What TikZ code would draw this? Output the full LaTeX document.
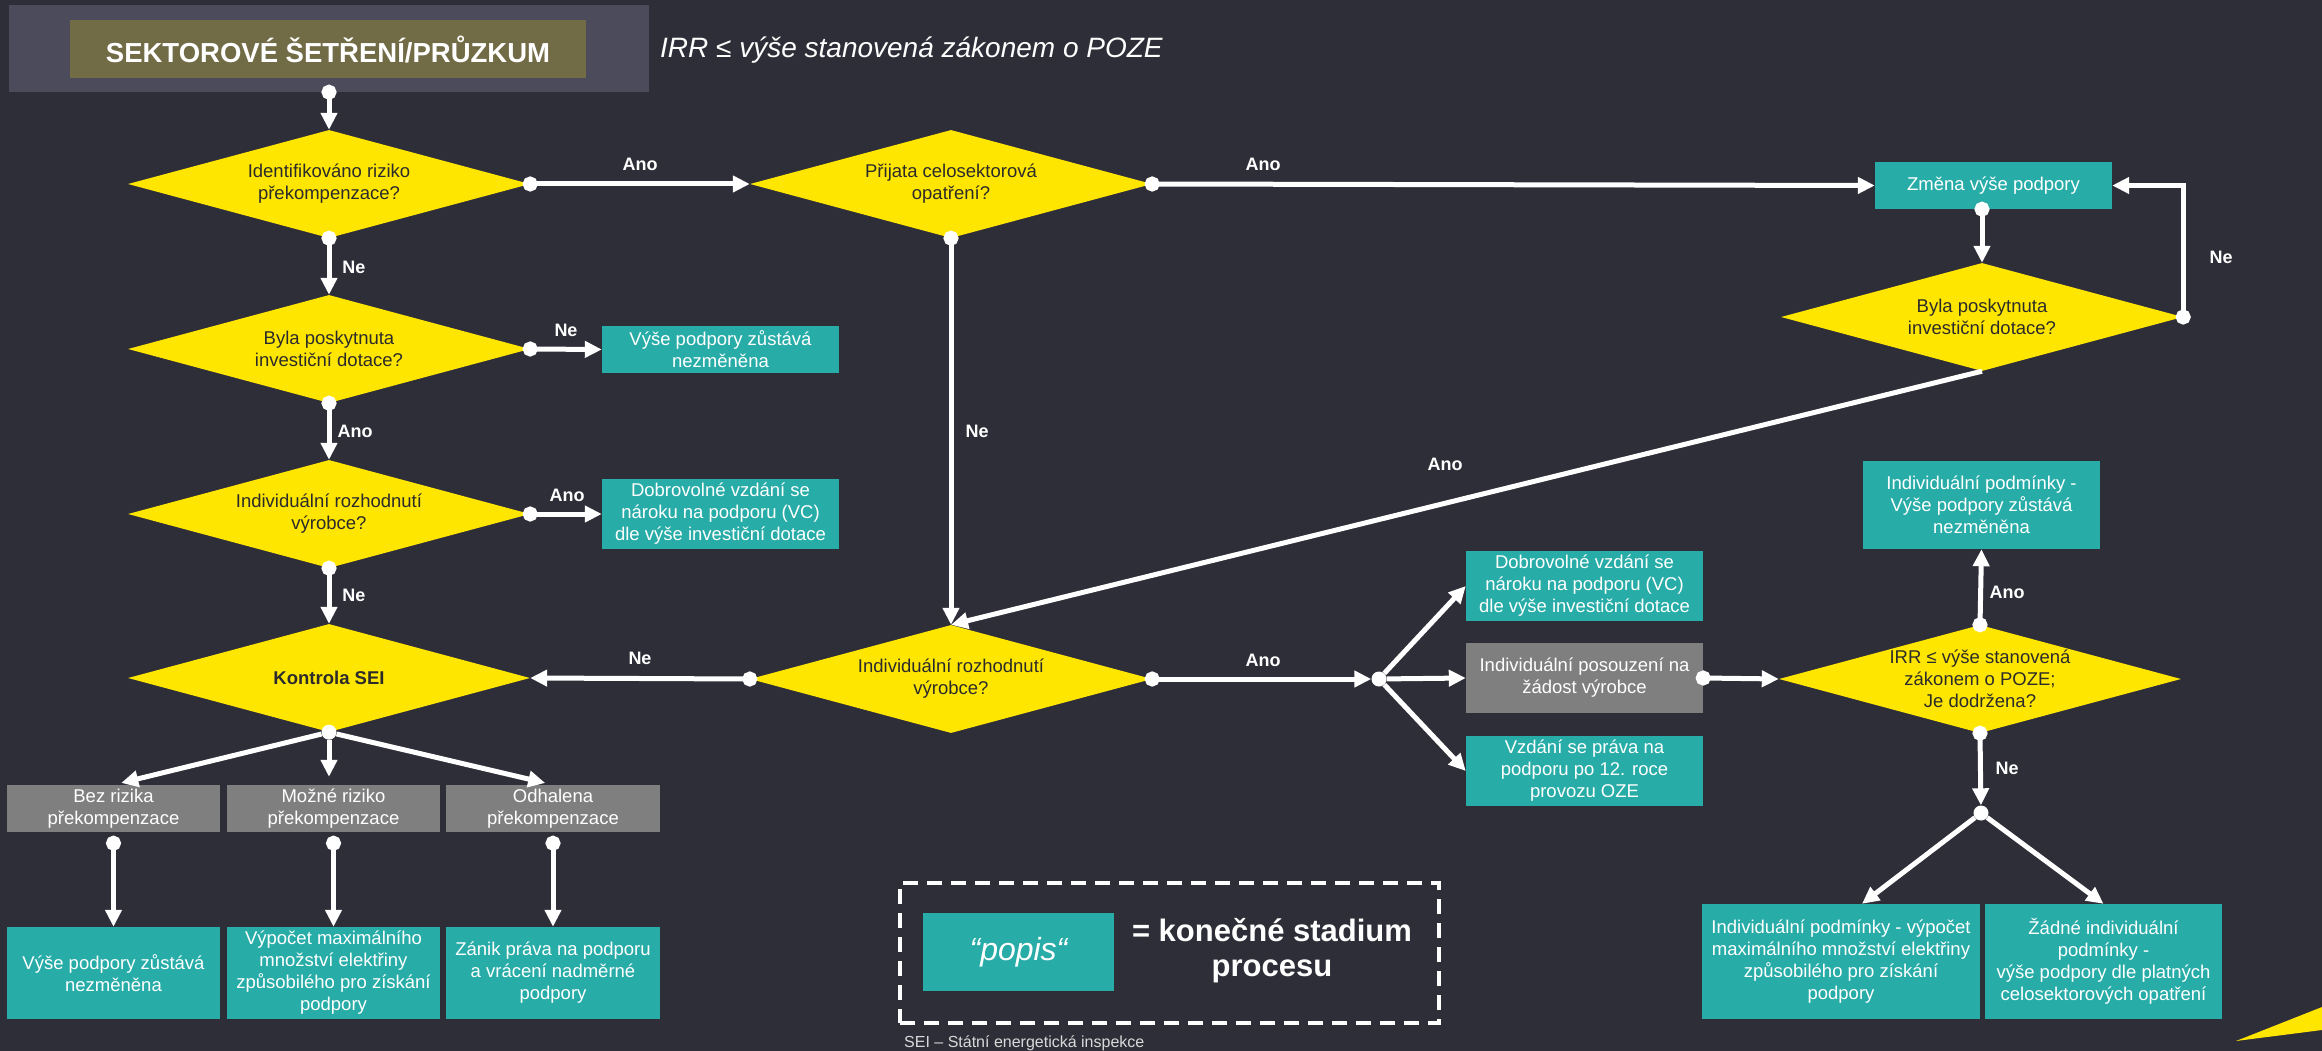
\documentclass[tikz,border=0pt]{standalone}
\usepackage{fontspec}
\setmainfont{Liberation Sans}
\usetikzlibrary{shapes.geometric,arrows.meta}
\definecolor{bgc}{HTML}{2E2E38}
\definecolor{dyellow}{HTML}{FFE600}
\definecolor{tealc}{HTML}{27ACA8}
\definecolor{grayc}{HTML}{7F7F7F}
\definecolor{hdrout}{HTML}{4B4B5C}
\definecolor{hdrin}{HTML}{716B46}
\definecolor{dtext}{HTML}{2B2B2B}
\newcommand{\bodyfont}{\fontsize{18.5}{22}\selectfont}
\begin{document}
\begin{tikzpicture}[x=1pt,y=-1pt,
    decision/.style={diamond,fill=dyellow,text=dtext,align=center,inner sep=0pt,aspect=3.72,minimum width=402pt,minimum height=108pt,font=\bodyfont},
    endbox/.style={rectangle,fill=tealc,text=white,align=center,inner sep=0pt,font=\bodyfont},
    midbox/.style={endbox,fill=grayc},
    jdot/.style={circle,fill=white,inner sep=0pt,minimum size=15pt},
    flow/.style={draw=white,line width=5pt,{Circle[length=15pt]}-{Triangle[length=17pt,width=16pt]},shorten <=-7.5pt},
    link/.style={draw=white,line width=5pt,-{Triangle[length=17pt,width=16pt]}},
    lbl/.style={text=white,font=\bfseries\fontsize{18}{20}\selectfont}]
  \fill[bgc] (0,0) rectangle (2322,1051);
  \useasboundingbox (0,0) rectangle (2322,1051);
  % header
  \node[fill=hdrout,minimum width=640pt,minimum height=87pt] (hdr) at (329,48.5) {};
  \node[fill=hdrin,text=white,minimum width=516pt,minimum height=58pt,font=\bfseries\fontsize{27.5}{30}\selectfont] (hdrtxt) at (328,49) {SEKTOROVÉ ŠETŘENÍ/PRŮZKUM};
  \node[anchor=west,text=white,inner sep=0pt,font=\itshape\fontsize{28}{32}\selectfont] (irr) at (660,50) {IRR ≤ výše stanovená zákonem o POZE};
  % left column
  \node[decision] (D1) at (329,184) {Identifikováno riziko\\překompenzace?};
  \node[decision] (DB) at (329,349) {Byla poskytnuta\\investiční dotace?};
  \node[decision] (DI) at (329,514) {Individuální rozhodnutí\\výrobce?};
  \node[decision,font=\bfseries\bodyfont] (K) at (329,678) {Kontrola SEI};
  \node[endbox,minimum width=237pt,minimum height=47pt] (V1) at (720.5,349.5) {Výše podpory zůstává\\nezměněna};
  \node[endbox,minimum width=237pt,minimum height=70pt] (V2) at (720.5,514) {Dobrovolné vzdání se\\nároku na podporu (VC)\\dle výše investiční dotace};
  \node[midbox,minimum width=213pt,minimum height=47pt] (BR1) at (113.5,808.5) {Bez rizika\\překompenzace};
  \node[midbox,minimum width=213pt,minimum height=47pt] (BR2) at (333.5,808.5) {Možné riziko\\překompenzace};
  \node[midbox,minimum width=214pt,minimum height=47pt] (BR3) at (553,808.5) {Odhalena\\překompenzace};
  \node[endbox,minimum width=213pt,minimum height=92pt] (T1) at (113.5,973) {Výše podpory zůstává\\nezměněna};
  \node[endbox,minimum width=213pt,minimum height=92pt] (T2) at (333.5,973) {Výpočet maximálního\\množství elektřiny\\způsobilého pro získání\\podpory};
  \node[endbox,minimum width=214pt,minimum height=92pt] (T3) at (553,973) {Zánik práva na podporu\\a vrácení nadměrné\\podpory};
  \node[jdot] (Kd) at (K.south) {};
  % middle and right
  \node[decision] (D2) at (951,184) {Přijata celosektorová\\opatření?};
  \node[decision] (D4) at (951,679) {Individuální rozhodnutí\\výrobce?};
  \node[endbox,minimum width=237pt,minimum height=47pt] (Z) at (1993.5,185.5) {Změna výše podpory};
  \node[decision] (D3) at (1982,317) {Byla poskytnuta\\investiční dotace?};
  \node[jdot] (J) at (1379,679) {};
  \node[endbox,minimum width=237pt,minimum height=70pt] (A1) at (1584.5,586) {Dobrovolné vzdání se\\nároku na podporu (VC)\\dle výše investiční dotace};
  \node[midbox,minimum width=237pt,minimum height=70pt] (G) at (1584.5,678) {Individuální posouzení na\\žádost výrobce};
  \node[endbox,minimum width=237pt,minimum height=70pt] (A3) at (1584.5,771) {Vzdání se práva na\\podporu po 12. roce\\provozu OZE};
  \node[decision] (D5) at (1980,679) {IRR ≤ výše stanovená\\zákonem o POZE;\\Je dodržena?};
  \node[endbox,minimum width=237pt,minimum height=88pt] (IP) at (1981.5,505) {Individuální podmínky -\\Výše podpory zůstává\\nezměněna};
  \node[jdot] (J2) at (1981,813) {};
  \node[endbox,minimum width=278pt,minimum height=115pt] (B1) at (1841,961.5) {Individuální podmínky - výpočet\\maximálního množství elektřiny\\způsobilého pro získání\\podpory};
  \node[endbox,minimum width=237pt,minimum height=115pt] (B2) at (2103.5,961.5) {Žádné individuální\\podmínky -\\výše podpory dle platných\\celosektorových opatření};
  % connectors
  \draw[flow] (hdr.south) -- (D1.north);
  \draw[flow] (D1.east) -- (D2.west);
  \draw[flow] (D2.east) -- (Z.west);
  \draw[flow] (D1.south) -- (DB.north);
  \draw[flow] (DB.east) -- (V1.west);
  \draw[flow] (DB.south) -- (DI.north);
  \draw[flow] (DI.east) -- (V2.west);
  \draw[flow] (DI.south) -- (K.north);
  \draw[link,shorten >=8pt] (Kd) -- (BR1.north);
  \draw[link,shorten >=8pt] (Kd) -- (Kd |- BR2.north);
  \draw[link,shorten >=8pt] (Kd) -- (BR3.north);
  \draw[flow,shorten <=3.5pt] (BR1.south) -- (T1.north);
  \draw[flow,shorten <=3.5pt] (BR2.south) -- (T2.north);
  \draw[flow,shorten <=3.5pt] (BR3.south) -- (T3.north);
  \draw[flow] (D2.south) -- (D4.north);
  \draw[flow] (D4.west) -- (K.east);
  \draw[flow] (D4.east) -- (J);
  \draw[flow] (Z.south -| D3.north) -- (D3.north);
  \draw[flow] (D3.east) |- (Z.east);
  \draw[link] (D3.south) -- (D4.north);
  \draw[link] (J) -- (A1.west);
  \draw[link] (J) -- (G.west);
  \draw[link] (J) -- (A3.west);
  \draw[flow] (G.east) -- (D5.west);
  \draw[flow] (D5.north) -- (IP.south);
  \draw[flow] (D5.south) -- (J2);
  \draw[link] (J2) -- (B1.70);
  \draw[link] (J2) -- (B2.north);
  % labels
  \node[lbl] (l1) at (640,164) {Ano};
  \node[lbl] (l2) at (1263,164) {Ano};
  \node[lbl] (l3) at (354,267) {Ne};
  \node[lbl] (l4) at (566,330) {Ne};
  \node[lbl] (l5) at (355,431) {Ano};
  \node[lbl] (l6) at (567,495) {Ano};
  \node[lbl] (l7) at (354,595) {Ne};
  \node[lbl] (l8) at (640,658) {Ne};
  \node[lbl] (l9) at (977,431) {Ne};
  \node[lbl] (l10) at (1263,660) {Ano};
  \node[lbl] (l11) at (1445,464) {Ano};
  \node[lbl] (l12) at (2221,257) {Ne};
  \node[lbl] (l13) at (2007,592) {Ano};
  \node[lbl] (l14) at (2007,768) {Ne};
  % legend
  \node[draw=white,line width=3.5pt,dash pattern=on 15pt off 9pt,minimum width=539pt,minimum height=140pt] (legend) at (1169.5,953) {};
  \node[endbox,minimum width=191pt,minimum height=78pt,font=\itshape\fontsize{32}{36}\selectfont] (popis) at (1018.5,952) {“popis“};
  \node[text=white,align=center,inner sep=0pt,font=\bfseries\fontsize{31}{35}\selectfont] (konec) at (1272,951) {= konečné stadium\\procesu};
  \node[anchor=west,text=black!15,inner sep=0pt,font=\fontsize{16}{18}\selectfont] (sei) at (904,1043) {SEI – Státní energetická inspekce};
  \fill[dyellow] (2236,1041) -- (2322,1007) -- (2322,1030) -- cycle;
\end{tikzpicture}
\end{document}
